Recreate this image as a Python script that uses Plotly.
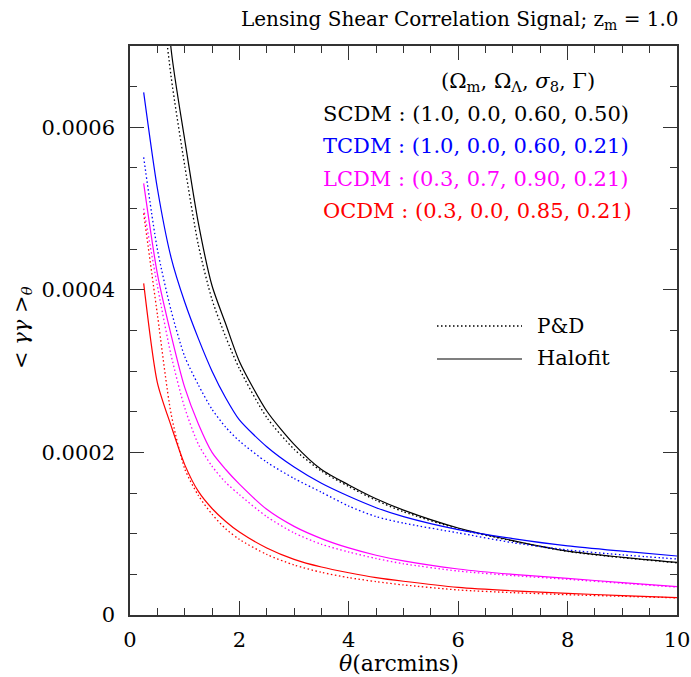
import plotly.graph_objects as go

theta = [0.25, 0.5, 0.75, 1.0, 1.25, 1.5, 1.75, 2.0, 2.5, 3.0, 3.5, 4.0, 4.5, 5.0, 6.0, 7.0, 8.0, 9.0, 10.0]

scdm_halofit = [0.00130, 0.00095, 0.000697, 0.000585, 0.000482, 0.000405, 0.000358, 0.000312, 0.000251,
                0.000210, 0.000179, 0.000160, 0.000143, 0.000129, 0.000107, 0.0000915, 0.0000785, 0.0000710, 0.0000648]
scdm_pd = [0.00110, 0.00082, 0.000663, 0.000553, 0.000455, 0.000388, 0.000342, 0.000303, 0.000243,
           0.000204, 0.000177, 0.000158, 0.000141, 0.000127, 0.000106, 0.0000910, 0.0000782, 0.0000705, 0.0000642]
tcdm_halofit = [0.000643, 0.000525, 0.000440, 0.000385, 0.000340, 0.000300, 0.000267, 0.000240, 0.000207,
                0.000182, 0.000162, 0.000146, 0.000132, 0.000121, 0.000105, 0.0000940, 0.0000850, 0.0000785, 0.0000726]
tcdm_pd = [0.000563, 0.000450, 0.000375, 0.000318, 0.000283, 0.000253, 0.000231, 0.000214, 0.000188,
           0.000168, 0.000151, 0.000134, 0.000121, 0.000113, 0.000101, 0.0000890, 0.0000800, 0.0000740, 0.0000689]
lcdm_halofit = [0.000531, 0.000420, 0.000345, 0.000280, 0.000235, 0.000200, 0.000179, 0.000161, 0.000130,
                0.000109, 0.0000940, 0.0000825, 0.0000735, 0.0000665, 0.0000566, 0.0000500, 0.0000451, 0.0000398, 0.0000348]
lcdm_pd = [0.000500, 0.000405, 0.000320, 0.000255, 0.000210, 0.000183, 0.000163, 0.000148, 0.000121,
           0.000101, 0.0000870, 0.0000775, 0.0000695, 0.0000630, 0.0000541, 0.0000485, 0.0000439, 0.0000390, 0.0000343]
ocdm_halofit = [0.000408, 0.000286, 0.000233, 0.000185, 0.000152, 0.000131, 0.000115, 0.000102, 0.0000825,
                0.0000685, 0.0000590, 0.0000520, 0.0000460, 0.0000415, 0.0000340, 0.0000298, 0.0000267, 0.0000238, 0.0000213]
ocdm_pd = [0.000494, 0.000370, 0.000248, 0.000180, 0.000147, 0.000124, 0.000106, 0.0000930, 0.0000745,
           0.0000615, 0.0000525, 0.0000460, 0.0000410, 0.0000370, 0.0000308, 0.0000275, 0.0000250, 0.0000230, 0.0000211]

models = ["SCDM", "TCDM", "LCDM", "OCDM"]
params = ["(1.0, 0.0, 0.60, 0.50)", "(1.0, 0.0, 0.60, 0.21)", "(0.3, 0.7, 0.90, 0.21)", "(0.3, 0.0, 0.85, 0.21)"]
colors = ["#000000", "#0000ff", "#ff00ff", "#ff0000"]
halofit = [scdm_halofit, tcdm_halofit, lcdm_halofit, ocdm_halofit]
pd_vals = [scdm_pd, tcdm_pd, lcdm_pd, ocdm_pd]

x_ticks = [0, 2, 4, 6, 8, 10]
y_ticks = [0, 0.0002, 0.0004, 0.0006]
y_ticktext = ["0", "0.0002", "0.0004", "0.0006"]

FONT = "DejaVu Serif"
DOT = "1.5px,2.5px"

fig = go.Figure()
for name, col, h, p in zip(models, colors, halofit, pd_vals):
    fig.add_trace(go.Scatter(x=theta, y=p, mode="lines", name=name + " P&D",
                             line=dict(color=col, width=1.3, dash=DOT, shape="spline", smoothing=0.7),
                             showlegend=False))
    fig.add_trace(go.Scatter(x=theta, y=h, mode="lines", name=name + " Halofit",
                             line=dict(color=col, width=1.2, shape="spline", smoothing=0.7),
                             showlegend=False))

axis_common = dict(showgrid=False, zeroline=False, showline=True, linecolor="#333333", linewidth=1.5,
                   mirror="allticks", ticks="inside", tickcolor="#333333", tickwidth=1.3, ticklen=14,
                   automargin=False,
                   tickfont=dict(family=FONT, size=21, color="#000000"))

fig.update_xaxes(range=[0, 10], tickvals=x_ticks, ticklabelstandoff=5,
                 minor=dict(dtick=0.5, ticklen=7, ticks="inside", tickcolor="#333333", tickwidth=1.1),
                 **axis_common)
fig.update_yaxes(range=[0, 0.0007], tickvals=y_ticks, ticktext=y_ticktext, ticklabelstandoff=9,
                 minor=dict(dtick=0.00005, ticklen=7, ticks="inside", tickcolor="#333333", tickwidth=1.1),
                 **axis_common)

# plot area targets page pixels x 130..677, y 46..615
def px2paper_x(px):
    return (px - 130) / 547.0

def px2paper_y(py):
    return (615 - py) / 569.0

ann = []
ann.append(dict(text="Lensing Shear Correlation Signal; z<sub>m</sub> = 1.0", x=px2paper_x(681), y=px2paper_y(20),
                xref="paper", yref="paper", xanchor="right", yanchor="middle", showarrow=False,
                font=dict(family=FONT, size=20, color="#000000")))
ann.append(dict(text="&lt; <i>γγ</i> &gt;<sub><i>θ</i></sub>", x=px2paper_x(22), y=px2paper_y(328),
                xref="paper", yref="paper", xanchor="center", yanchor="middle", textangle=-90, showarrow=False,
                font=dict(family=FONT, size=21, color="#000000")))
ann.append(dict(text="<i>θ</i>(arcmins)", x=px2paper_x(399), y=px2paper_y(663),
                xref="paper", yref="paper", xanchor="center", yanchor="middle", showarrow=False,
                font=dict(family=FONT, size=22, color="#000000")))
ann.append(dict(text="(Ω<sub>m</sub>, Ω<sub>Λ</sub>, <i>σ</i><sub>8</sub>, Γ)", x=px2paper_x(439), y=px2paper_y(82),
                xref="paper", yref="paper", xanchor="left", yanchor="middle", showarrow=False,
                font=dict(family=FONT, size=21, color="#000000")))
row_y = [114, 146, 179, 211]
for name, par, col, ry in zip(models, params, colors, row_y):
    ann.append(dict(text=f"{name} : {par}", x=px2paper_x(321), y=px2paper_y(ry),
                    xref="paper", yref="paper", xanchor="left", yanchor="middle", showarrow=False,
                    font=dict(family=FONT, size=21, color=col)))
ann.append(dict(text="P&amp;D", x=px2paper_x(535), y=px2paper_y(326), xref="paper", yref="paper",
                xanchor="left", yanchor="middle", showarrow=False, font=dict(family=FONT, size=20, color="#000000")))
ann.append(dict(text="Halofit", x=px2paper_x(535), y=px2paper_y(358), xref="paper", yref="paper",
                xanchor="left", yanchor="middle", showarrow=False, font=dict(family=FONT, size=21, color="#000000")))

shapes = [
    dict(type="line", xref="paper", yref="paper", x0=px2paper_x(437), x1=px2paper_x(522),
         y0=px2paper_y(326), y1=px2paper_y(326), line=dict(color="#000000", width=1.3, dash=DOT)),
    dict(type="line", xref="paper", yref="paper", x0=px2paper_x(437), x1=px2paper_x(522),
         y0=px2paper_y(359), y1=px2paper_y(359), line=dict(color="#000000", width=1.2)),
]

fig.update_layout(width=691, height=677, margin=dict(l=130, r=14, t=46, b=62),
                  plot_bgcolor="#ffffff", paper_bgcolor="#ffffff",
                  annotations=ann, shapes=shapes, showlegend=False)

fig.write_html("out.html", config={"displayModeBar": False},
               post_script="document.body.style.margin='0';document.body.style.overflow='hidden';")
